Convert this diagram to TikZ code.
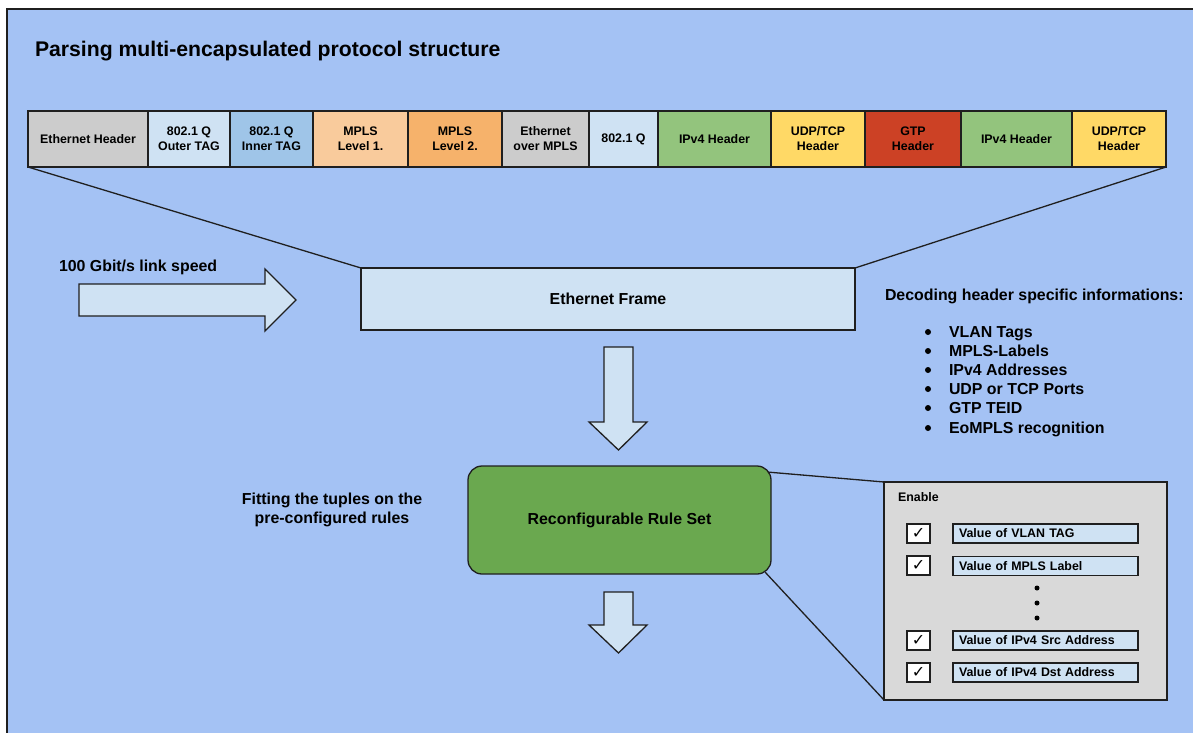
\documentclass[tikz,border=0pt]{standalone}
\usepackage{fontspec}
\setmainfont{Liberation Sans}
\newfontfamily\dejavu{DejaVu Sans}
\usetikzlibrary{backgrounds,calc}
\definecolor{bg}{HTML}{A4C2F4}
\definecolor{gy}{HTML}{CCCCCC}
\definecolor{lgy}{HTML}{D9D9D9}
\definecolor{lb}{HTML}{CFE2F3}
\definecolor{mb}{HTML}{9FC5E8}
\definecolor{lo}{HTML}{F9CB9C}
\definecolor{mo}{HTML}{F6B26B}
\definecolor{gn}{HTML}{93C47D}
\definecolor{dgn}{HTML}{6AA84F}
\definecolor{yl}{HTML}{FFD966}
\definecolor{rd}{HTML}{CC4125}
\definecolor{ln}{HTML}{1F1F1F}
\begin{document}
\begin{tikzpicture}[x=1pt,y=-1pt,
  every node/.style={inner sep=0pt, outer sep=0pt},
  lw/.style={line width=1.3pt, draw=ln},
  hdr/.style={lw, minimum height=56pt, anchor=west, align=center, font=\bfseries\fontsize{12.4}{14.9}\selectfont},
  bigtxt/.style={font=\bfseries\fontsize{15.9}{19.1}\selectfont},
  smalltxt/.style={font=\bfseries\fontsize{12.4}{14.9}\selectfont},
  arrowshape/.style={lw, fill=lb, line join=miter},
  valbox/.style={lw, fill=lb, minimum width=185pt, minimum height=19pt, text width=173pt, inner xsep=6pt, align=left, anchor=west, smalltxt},
  chkbox/.style={lw, fill=white, minimum width=23pt, minimum height=19pt, font=\dejavu\fontsize{16}{16}\selectfont},
  bulletdot/.style={circle, fill=black, minimum size=6pt},
]
\useasboundingbox (0,0) rectangle (1193,732);

% title
\node[anchor=base west, font=\bfseries\fontsize{21.2}{25}\selectfont] (title) at (35,56) {Parsing multi-encapsulated protocol structure};

% header row
\node[hdr, fill=gy, minimum width=120pt] (h1) at (28,139) {Ethernet Header};
\node[hdr, fill=lb, minimum width=82pt] (h2) at (h1.east) {802.1 Q\\Outer TAG};
\node[hdr, fill=mb, minimum width=83pt] (h3) at (h2.east) {802.1 Q\\Inner TAG};
\node[hdr, fill=lo, minimum width=95pt] (h4) at (h3.east) {MPLS\\Level 1.};
\node[hdr, fill=mo, minimum width=94pt] (h5) at (h4.east) {MPLS\\Level 2.};
\node[hdr, fill=gy, minimum width=87pt] (h6) at (h5.east) {Ethernet\\over MPLS};
\node[hdr, fill=lb, minimum width=69pt] (h7) at (h6.east) {802.1 Q};
\node[hdr, fill=gn, minimum width=113pt] (h8) at (h7.east) {IPv4 Header};
\node[hdr, fill=yl, minimum width=94pt] (h9) at (h8.east) {UDP/TCP\\Header};
\node[hdr, fill=rd, minimum width=96pt] (h10) at (h9.east) {GTP\\Header};
\node[hdr, fill=gn, minimum width=111pt] (h11) at (h10.east) {IPv4 Header};
\node[hdr, fill=yl, minimum width=94pt] (h12) at (h11.east) {UDP/TCP\\Header};

% ethernet frame
\node[lw, fill=lb, minimum width=494pt, minimum height=62pt, bigtxt] (frame) at (608,299) {Ethernet Frame};

% link speed
\node[anchor=base west, bigtxt] (speed) at (59,271.5) {100 Gbit/s link speed};
\draw[arrowshape] (79,284) -- (265,284) -- (265,269) -- (296,300) -- (265,331) -- (265,316) -- (79,316) -- cycle;

% decoding info
\node[anchor=base west, bigtxt] (decode) at (885,300) {Decoding header specific informations:};
\foreach \y/\t [count=\i] in {332/VLAN Tags, 351/MPLS-Labels, 370/IPv4 Addresses, 389/UDP or TCP Ports, 408/GTP TEID, 428/EoMPLS recognition}{
  \node[bulletdot] (b\i) at (928,\y) {};
  \node[anchor=base west, bigtxt] (item\i) at (949,\y+5.7) {\t};
}

% arrows down
\draw[arrowshape] (604,347) -- (633,347) -- (633,422) -- (647,422) -- (618.5,450) -- (589,422) -- (604,422) -- cycle;
\draw[arrowshape] (604,592) -- (633,592) -- (633,625) -- (647,625) -- (618.5,653) -- (589,625) -- (604,625) -- cycle;

% rule set
\node[lw, fill=dgn, rounded corners=14pt, minimum width=303pt, minimum height=108pt, bigtxt] (rules) at (619.5,520) {Reconfigurable Rule Set};

\node[anchor=base, bigtxt, align=center] (fit) at (332,504) {Fitting the tuples on the};
\node[anchor=base, bigtxt, align=center] (fit2) at (332,523) {pre-configured rules};

% enable box
\node[lw, fill=lgy, minimum width=283pt, minimum height=218pt] (enable) at (1025.5,591) {};
\node[anchor=base west, smalltxt] (enlabel) at (898,501.4) {Enable};

\node[chkbox] (c1) at (918.5,533.5) {✓};
\node[chkbox] (c2) at (918.5,565.5) {✓};
\node[chkbox] (c3) at (918.5,640.5) {✓};
\node[chkbox] (c4) at (918.5,672.5) {✓};

\node[valbox] (v1) at (953,533.5) {Value of VLAN TAG};
\node[valbox] (v2) at (953,566) {Value of MPLS Label};
\node[valbox] (v3) at (953,640.5) {Value of IPv4 Src Address};
\node[valbox] (v4) at (953,672.5) {Value of IPv4 Dst Address};

\node[bulletdot, minimum size=5pt] (d1) at (1037,588) {};
\node[bulletdot, minimum size=5pt] (d2) at (1037,603) {};
\node[bulletdot, minimum size=5pt] (d3) at (1037,618) {};

\begin{scope}[on background layer]
  \fill[bg] (7,9) rectangle (1215,750);
  \draw[line width=2pt, draw=ln] (7,9) rectangle (1215,750);
  \draw[lw] (h1.south west) -- (frame.north west);
  \draw[lw] (h12.south east) -- (frame.north east);
  \draw[lw] ($(rules.north east)+(-4,6)$) -- (enable.north west);
  \draw[lw] ($(rules.south east)+(-6,-2)$) -- (enable.south west);
\end{scope}
\end{tikzpicture}
\end{document}
